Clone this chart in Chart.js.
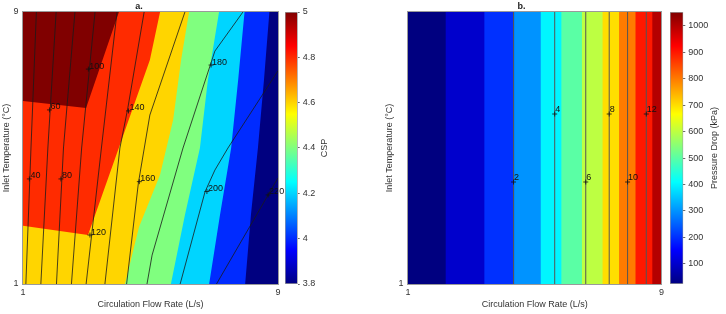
<!DOCTYPE html>
<html>
<head>
<meta charset="utf-8">
<script src="https://cdn.jsdelivr.net/npm/chart.js@4.4.1/dist/chart.umd.min.js"></script>
<style>
  html, body { margin: 0; padding: 0; background: #fff; }
  #wrap { position: relative; width: 726px; height: 314px; overflow: hidden; }
  canvas { position: absolute; top: 0; }
</style>
</head>
<body>
<div id="wrap">
  <canvas id="plotA" width="284" height="314" style="left:0"></canvas>
  <canvas id="barA" width="50" height="314" style="left:284px"></canvas>
  <canvas id="plotB" width="287" height="314" style="left:380px"></canvas>
  <canvas id="barB" width="57" height="314" style="left:669px"></canvas>
</div>
<script>
// ── axis ticks ──
const flowTicks = [1, 9];
const tempTicksA = [1, 9];
const tempTicksB = [1];

// ── a. CSP filled contours: level edges as [flow, temperature], top to bottom ──
const cspRange = [3.8, 5.0];
const cspTicks = [3.8, 4, 4.2, 4.4, 4.6, 4.8, 5];
const cspLevels = [4.0, 4.2, 4.4, 4.6, 4.8, 5.0];
const cspEdges = [
  [[8.73, 9], [8.56, 7], [8.37, 5], [8.15, 3.03], [7.97, 1]],
  [[7.95, 9], [7.75, 7], [7.53, 5], [7.18, 3.03], [6.84, 1]],
  [[7.15, 9], [6.80, 7], [6.55, 5], [6.08, 3.03], [5.64, 1]],
  [[6.21, 9], [5.96, 7.59], [5.71, 5.82], [5.30, 4.21], [4.64, 2.68], [4.20, 1]],
  [[5.30, 9], [4.98, 7.59], [3.04, 2.44], [1, 2.71]],
  [[4.01, 9], [2.98, 6.18], [1, 6.38]]
];

// ── a. overlaid contour lines ──
const lineLevelsA = [40, 60, 80, 100, 120, 140, 160, 180, 200, 220];
const linePathsA = [
  [[1.42, 9], [1.25, 5], [1.09, 1]],
  [[2.04, 9], [1.78, 5], [1.56, 1]],
  [[2.63, 9], [2.27, 5], [2.05, 1]],
  [[3.26, 9], [2.84, 5], [2.52, 1]],
  [[3.95, 9], [3.46, 5], [2.98, 1]],
  [[4.80, 9], [4.29, 6.18], [4.04, 5], [3.57, 1]],
  [[6.08, 9], [4.98, 5.97], [4.62, 3.97], [4.25, 1]],
  [[7.90, 9], [7.02, 7.85], [6.02, 5], [5.05, 1.85], [4.89, 1]],
  [[9, 7.27], [7.43, 5], [7.02, 4.35], [6.71, 3.71], [5.93, 1]],
  [[9, 4.12], [7.07, 1]]
];
const labelPosA = [[1.20, 4.09], [1.83, 6.12], [2.19, 4.09], [3.05, 7.32], [3.10, 2.44],
                   [4.31, 6.09], [4.65, 4.01], [6.90, 7.44], [6.77, 3.72], [8.69, 3.62]];

// ── b. pressure drop bands (flow rate where each level is reached) ──
const pdRange = [23, 1053];
const pdTicks = [100, 200, 300, 400, 500, 600, 700, 800, 900, 1000];
const pdLevels = [100, 200, 300, 400, 500, 600, 700, 800, 900, 1000];
const pdEdges = [2.19, 3.41, 4.35, 5.19, 5.84, 6.49, 7.14, 7.66, 8.18, 8.71];

// ── b. overlaid contour lines ──
const lineLevelsB = [2, 4, 6, 8, 10, 12];
const lineFlowB = [4.33, 5.63, 6.61, 7.35, 7.93, 8.52];
const labelTempB = [4, 6, 4, 6, 4, 6];

const FONT = '"Liberation Sans", Arial, Helvetica, sans-serif';
const TEXT = '#333';
Chart.defaults.font.family = FONT;

// ── helpers ──
function jet(t) {
  const c = v => Math.round(255 * Math.max(0, Math.min(1, v)));
  return 'rgb(' + c(Math.min(4 * t - 1.5, -4 * t + 4.5)) + ',' +
    c(Math.min(4 * t - 0.5, -4 * t + 3.5)) + ',' +
    c(Math.min(4 * t + 0.5, -4 * t + 2.5)) + ')';
}

function jetGradient(ctx, area) {
  const g = ctx.createLinearGradient(0, area.bottom, 0, area.top);
  [[0, '#000080'], [0.125, '#0000ff'], [0.375, '#00ffff'],
   [0.625, '#ffff00'], [0.875, '#ff0000'], [1, '#800000']].forEach(s => g.addColorStop(s[0], s[1]));
  return g;
}

const pt = p => ({ x: p[0], y: p[1] });

function area(points, color, order) {
  return {
    data: points, showLine: true, fill: 'shape', tension: 0,
    backgroundColor: color, borderColor: color, borderWidth: 0,
    pointRadius: 0, order: order
  };
}

function contourLine(points, color, width) {
  return {
    data: points, showLine: true, fill: false, tension: 0,
    borderColor: color, borderWidth: width, pointRadius: 0, order: 2
  };
}

// polygon of the part left of an edge (values above the level)
function leftOf(edge) {
  const last = edge[edge.length - 1];
  return [{ x: 1, y: 9 }].concat(edge.map(pt), [{ x: 1, y: last[1] }, { x: 1, y: 1 }, { x: 1, y: 9 }]);
}

// polygon right of a vertical edge
function rightOf(f) {
  return [{ x: f, y: 9 }, { x: 9, y: 9 }, { x: 9, y: 1 }, { x: f, y: 1 }, { x: f, y: 9 }];
}

const fullBox = [{ x: 1, y: 1 }, { x: 9, y: 1 }, { x: 9, y: 9 }, { x: 1, y: 9 }, { x: 1, y: 1 }];

// ── plugins ──
const contourText = {
  id: 'contourText',
  afterDatasetsDraw(chart, args, opts) {
    const { ctx, chartArea: a, scales: { x, y } } = chart;
    ctx.save();
    ctx.font = '9px ' + FONT;
    ctx.fillStyle = '#111';
    ctx.textAlign = 'left';
    ctx.textBaseline = 'middle';
    (opts.items || []).forEach(it => {
      ctx.fillText(it.text, x.getPixelForValue(it.x) + opts.dx, y.getPixelForValue(it.y) + opts.dy);
    });
    ctx.strokeStyle = '#9a9a9a';
    ctx.lineWidth = 1;
    ctx.strokeRect(Math.round(a.left) - 0.5, Math.round(a.top) - 0.5,
      Math.round(a.right - a.left) + 1, Math.round(a.bottom - a.top) + 1);
    ctx.restore();
  }
};

const sideTitle = {
  id: 'sideTitle',
  afterDraw(chart, args, opts) {
    const { ctx, chartArea } = chart;
    ctx.save();
    ctx.translate(opts.x, (chartArea.top + chartArea.bottom) / 2);
    ctx.rotate(-Math.PI / 2);
    ctx.font = '9px ' + FONT;
    ctx.fillStyle = TEXT;
    ctx.textAlign = 'center';
    ctx.textBaseline = 'middle';
    ctx.fillText(opts.text, 0, 0);
    ctx.restore();
  }
};

function plotOptions(title, yTicks, yWidth, yTitlePad, padRight, labels, dx, dy) {
  return {
    responsive: false,
    animation: false,
    events: [],
    layout: { padding: { right: padRight } },
    scales: {
      x: {
        type: 'linear', min: 1, max: 9,
        afterBuildTicks: s => { s.ticks = flowTicks.map(v => ({ value: v })); },
        afterFit: s => { s.height = 30; },
        grid: { display: false, drawTicks: false },
        border: { display: false },
        ticks: { padding: 3, color: TEXT, font: { size: 9 }, maxRotation: 0 },
        title: { display: true, text: 'Circulation Flow Rate (L/s)', color: TEXT,
                 font: { size: 9 }, padding: { top: 0, bottom: 3.6 } }
      },
      y: {
        type: 'linear', min: 1, max: 9,
        afterBuildTicks: s => { s.ticks = yTicks.map(v => ({ value: v })); },
        afterFit: s => { s.width = yWidth; },
        grid: { display: false, drawTicks: false },
        border: { display: false },
        ticks: { padding: 4.5, color: TEXT, font: { size: 9 } },
        title: { display: true, text: 'Inlet Temperature (°C)', color: TEXT,
                 font: { size: 9 }, padding: { top: yTitlePad, bottom: 0 } }
      }
    },
    plugins: {
      legend: { display: false },
      tooltip: { enabled: false },
      title: { display: true, text: title, color: '#222',
               font: { size: 9, weight: 'bold' }, padding: { top: 1, bottom: 0.2 } },
      contourText: { items: labels, dx: dx, dy: dy }
    }
  };
}

function colorbar(id, range, ticks, titleText, axisWidth, titleX) {
  new Chart(document.getElementById(id), {
    type: 'bar',
    data: {
      labels: [titleText],
      datasets: [{
        data: [range],
        backgroundColor: c => c.chart.chartArea ? jetGradient(c.chart.ctx, c.chart.chartArea) : 'transparent',
        borderColor: '#9a9a9a', borderWidth: 1, borderSkipped: false,
        barPercentage: 1, categoryPercentage: 1
      }]
    },
    options: {
      responsive: false,
      animation: false,
      events: [],
      layout: { padding: { top: 12, bottom: 30, left: 1 } },
      scales: {
        x: { display: false },
        y: {
          position: 'right', min: range[0], max: range[1],
          afterBuildTicks: s => { s.ticks = ticks.map(v => ({ value: v })); },
          afterFit: s => { s.width = axisWidth; },
          grid: { display: true, drawOnChartArea: false, drawTicks: true, tickLength: 2, color: '#444', lineWidth: 0.8 },
          border: { display: false },
          ticks: { padding: 3, color: TEXT, font: { size: 9 }, callback: v => String(v) }
        }
      },
      plugins: {
        legend: { display: false },
        tooltip: { enabled: false },
        sideTitle: { text: titleText, x: titleX }
      }
    },
    plugins: [sideTitle]
  });
}

// ────────────────────────────────────────────────
// a. CSP
// ────────────────────────────────────────────────
const cspT = v => (v - cspRange[0]) / (cspRange[1] - cspRange[0]);
const setsA = [area(fullBox, jet(0), 100)];
cspLevels.forEach((lv, i) => setsA.push(area(leftOf(cspEdges[i]), jet(cspT(lv)), 90 - i)));
linePathsA.forEach(p => setsA.push(contourLine(p.map(pt), '#1a1a1a', 0.8)));
setsA.push({
  data: labelPosA.map(pt), pointStyle: 'cross', pointRadius: 2.5,
  borderColor: '#111', borderWidth: 0.8, showLine: false, order: 1
});

new Chart(document.getElementById('plotA'), {
  type: 'scatter',
  data: { datasets: setsA },
  options: plotOptions('a.', tempTicksA, 23, 1.6, 6,
    labelPosA.map((p, i) => ({ x: p[0], y: p[1], text: String(lineLevelsA[i]) })), 1, -3),
  plugins: [contourText]
});

colorbar('barA', cspRange, cspTicks, 'CSP', 36.3, 41);

// ────────────────────────────────────────────────
// b. Pressure drop
// ────────────────────────────────────────────────
const pdT = v => (v - pdRange[0]) / (pdRange[1] - pdRange[0]);
const setsB = [area(fullBox, jet(0), 100)];
pdLevels.forEach((lv, i) => setsB.push(area(rightOf(pdEdges[i]), jet(pdT(lv)), 90 - i)));
lineFlowB.forEach(f => setsB.push(contourLine([{ x: f, y: 1 }, { x: f, y: 9 }], '#555', 1)));
setsB.push({
  data: lineFlowB.map((f, i) => ({ x: f, y: labelTempB[i] })), pointStyle: 'cross', pointRadius: 2.5,
  borderColor: '#111', borderWidth: 0.8, showLine: false, order: 1
});

new Chart(document.getElementById('plotB'), {
  type: 'scatter',
  data: { datasets: setsB },
  options: plotOptions('b.', tempTicksB, 28, 4.6, 4,
    lineFlowB.map((f, i) => ({ x: f, y: labelTempB[i], text: String(lineLevelsB[i]) })), 0.5, -4.5),
  plugins: [contourText]
});

colorbar('barB', pdRange, pdTicks, 'Pressure Drop (kPa)', 42.7, 46);
</script>
</body>
</html>
